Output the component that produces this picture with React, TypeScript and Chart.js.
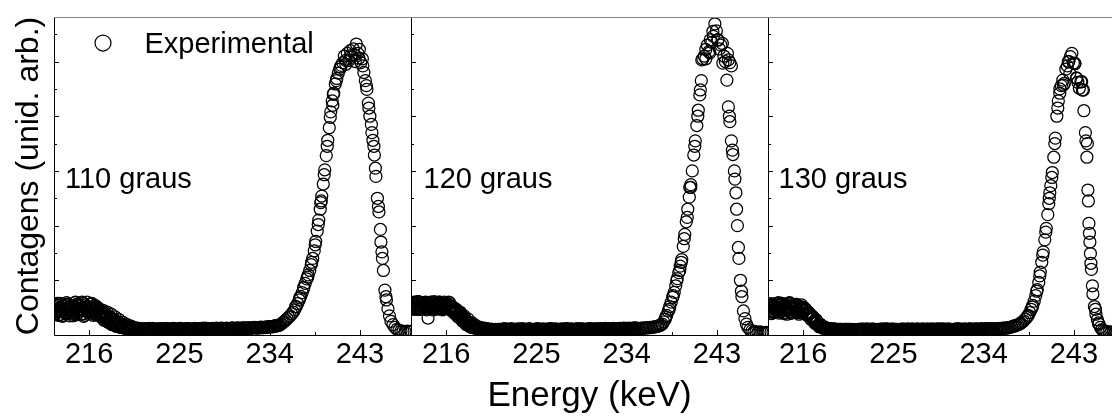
import { useEffect, useRef } from 'react';
import { Chart, registerables } from 'chart.js';

Chart.register(...registerables);

// Channel energies (keV), shared by the three spectra
const energyKeV = [
  212.4, 212.6, 212.8, 213.0, 213.2, 213.4, 213.6, 213.8, 214.0, 214.2, 214.4, 214.6, 214.8, 215.0, 215.2,
  215.4, 215.6, 215.8, 216.0, 216.2, 216.4, 216.6, 216.8, 217.0, 217.2, 217.4, 217.6, 217.8, 218.0, 218.2,
  218.4, 218.6, 218.8, 219.0, 219.2, 219.4, 219.6, 219.8, 220.0, 220.2, 220.4, 220.6, 220.8, 221.0,
  221.4, 221.8, 222.2, 222.6, 223.0, 223.4, 223.8, 224.2, 224.6, 225.0, 225.4, 225.8, 226.2, 226.6, 227.0,
  227.4, 227.8, 228.2, 228.6, 229.0, 229.4, 229.8, 230.2, 230.6, 231.0, 231.4, 231.8, 232.2, 232.6, 233.0,
  233.4, 233.8, 234.2, 234.6,
  235.0, 235.15, 235.3, 235.45, 235.6, 235.75, 235.9, 236.05, 236.2, 236.35,
  236.5, 236.65, 236.8, 236.95, 237.1, 237.25, 237.4, 237.55, 237.7, 237.85,
  238.0, 238.15, 238.3, 238.45, 238.6, 238.75, 238.9, 239.05, 239.2, 239.35,
  239.5, 239.65, 239.8, 239.95, 240.1, 240.25, 240.4, 240.55, 240.7, 240.85,
  241.0, 241.15, 241.3, 241.45, 241.6, 241.75, 241.9, 242.05, 242.2, 242.35,
  242.5, 242.65, 242.8, 242.95, 243.1, 243.25, 243.4, 243.55, 243.7, 243.85,
  244.0, 244.15, 244.3, 244.45, 244.6, 244.75, 244.9, 245.05, 245.2, 245.35,
  245.5, 245.65, 245.8, 245.95,
  246.1, 246.3, 246.5, 246.7, 246.9, 247.1, 247.3, 247.5, 247.7, 247.9, 248.1,
];

// Counts at 110 degrees
const counts110 = [
  470, 380, 540, 420, 500, 360, 560, 450, 400, 520, 350, 590, 430, 480, 380,
  510, 440, 600, 400, 490, 360, 540, 420, 470, 330, 450, 300, 420, 260, 380,
  220, 330, 180, 280, 160, 230, 140, 190, 125, 160, 115, 135, 110, 120,
  105, 115, 100, 110, 95, 105, 115, 100, 110, 100, 95, 110, 105, 115, 100,
  110, 120, 105, 110, 120, 105, 115, 125, 110, 120, 130, 115, 125, 135, 130,
  140, 150, 155, 170,
  180, 200, 225, 245, 270, 300, 325, 350, 385, 420,
  460, 515, 575, 640, 705, 775, 860, 945, 1025, 1100,
  1180, 1285, 1400, 1540, 1710, 1900, 2100, 2300, 2540, 2760,
  3020, 3280, 3560, 3790, 4080, 4280, 4420, 4590, 4690, 4790,
  4860, 4930, 4980, 5100, 4950, 5150, 5020, 5200, 5080, 5230,
  5120, 5320, 5150, 5220, 4980, 5050, 4800, 4650, 4490, 4240,
  4000, 3850, 3560, 3290, 2900, 2500, 2250, 1930, 1520, 1180,
  820, 640, 480, 350,
  250, 190, 140, 105, 85, 75, 65, 60, 70, 60, 65,
];

// Counts at 120 degrees
const counts120 = [
  540, 480, 600, 500, 560, 470, 590, 520, 530, 310, 560, 490, 610, 510, 570,
  480, 540, 600, 500, 560, 460, 520, 400, 470, 330, 420, 260, 350, 190, 290,
  150, 220, 130, 170, 115, 140, 110, 125, 105, 110, 100, 105, 95, 100,
  100, 110, 95, 105, 100, 110, 95, 105, 100, 110, 105, 95, 110, 100, 105,
  95, 110, 100, 105, 110, 100, 105, 110, 100, 110, 105, 115, 105, 110, 115,
  110, 120, 115, 120,
  115, 120, 110, 125, 120, 130, 125, 135, 130, 140,
  135, 145, 150, 155, 160, 170, 180, 200, 240, 290,
  360, 440, 520, 600, 690, 780, 900, 1030, 1140, 1260,
  1380, 1620, 1840, 2070, 2300, 2520, 2750, 3000, 3290, 3550,
  3830, 4110, 4390, 4650, 5050, 5100, 5220, 5300, 5180, 5400,
  5350, 5460, 5690, 5560, 5400, 5230, 5300, 5330, 5100, 5000,
  4660, 4170, 3900, 3550, 3300, 3000, 2600, 2000, 1400, 1000,
  700, 440, 300, 200,
  140, 95, 75, 60, 55, 50, 55, 50, 45, 50, 45,
];

// Counts at 130 degrees
const counts130 = [
  480, 560, 420, 530, 460, 580, 400, 510, 450, 560, 380, 520, 470, 550, 430,
  500, 380, 520, 440, 470, 360, 400, 280, 320, 210, 240, 150, 180, 120, 130,
  105, 115, 100, 110, 100, 105, 95, 105, 100, 95, 105, 100, 95, 100,
  100, 95, 105, 100, 95, 105, 100, 110, 95, 100, 105, 100, 95, 105, 100,
  110, 100, 95, 105, 100, 110, 100, 105, 95, 105, 110, 100, 105, 110, 105,
  100, 110, 105, 110,
  110, 105, 115, 110, 120, 115, 125, 120, 130, 125,
  135, 140, 150, 160, 165, 175, 185, 200, 215, 235,
  260, 290, 320, 360, 410, 470, 540, 620, 720, 830,
  960, 1150, 1330, 1520, 1740, 1950, 2200, 2500, 2730, 2970,
  3250, 3600, 4000, 4280, 4420, 4560, 4660, 4600, 4860, 4920,
  5000, 5090, 5150, 4970, 4960, 4700, 4620, 4510, 4630, 4480,
  4100, 3700, 3250, 2450, 1700, 1200, 750, 520, 380, 280,
  200, 140, 100, 80,
  70, 60, 55, 50, 55, 50, 45, 50, 45, 50, 45,
];

// Intermediate channels of the low-energy shoulder and the flat background
const interleavedKeV = [
  212.5, 212.7, 212.9, 213.1, 213.3, 213.5, 213.7, 213.9, 214.1, 214.3,
  214.5, 214.7, 214.9, 215.1, 215.3, 215.5, 215.7, 215.9, 216.1, 216.3,
  216.5, 216.7, 216.9, 217.1, 217.3, 217.5, 217.7, 217.9, 218.1, 218.3,
  218.5, 218.7, 218.9, 219.1, 219.3, 219.5, 219.7, 219.9, 220.1, 220.3,
  220.5, 220.7, 220.9,
  221.2, 221.6, 222.0, 222.4, 222.8, 223.2, 223.6, 224.0, 224.4, 224.8,
  225.2, 225.6, 226.0, 226.4, 226.8, 227.2, 227.6, 228.0, 228.4, 228.8,
  229.2, 229.6, 230.0, 230.4, 230.8, 231.2, 231.6, 232.0, 232.4, 232.8,
  233.2, 233.6, 234.0, 234.4, 234.8,
];

const interleaved110 = [
  420, 520, 360, 580, 440, 490, 390, 550, 470, 410,
  530, 370, 560, 450, 600, 390, 500, 430, 560, 420,
  480, 380, 500, 380, 430, 270, 390, 230, 330, 200,
  290, 160, 240, 140, 200, 125, 170, 115, 145, 110,
  125, 105, 115,
  110, 100, 120, 105, 95, 115, 105, 100, 120, 110,
  100, 115, 105, 95, 110, 120, 100, 115, 110, 105,
  125, 115, 110, 120, 130, 110, 125, 120, 135, 125,
  140, 135, 150, 160, 175,
];

const interleaved120 = [
  560, 510, 580, 470, 600, 520, 560, 480, 590, 500,
  540, 460, 580, 530, 600, 470, 560, 510, 580, 490,
  500, 430, 480, 360, 400, 300, 330, 220, 250, 170,
  200, 140, 155, 120, 130, 110, 120, 100, 110, 95,
  105, 100, 105,
  105, 95, 110, 100, 105, 95, 110, 105, 100, 95,
  110, 100, 105, 110, 95, 105, 100, 110, 105, 95,
  110, 100, 105, 110, 100, 105, 115, 100, 110, 105,
  115, 110, 120, 115, 125,
];

const interleaved130 = [
  520, 440, 570, 410, 500, 540, 460, 580, 390, 500,
  450, 570, 420, 510, 560, 440, 470, 400, 500, 380,
  420, 330, 350, 250, 280, 180, 200, 140, 150, 110,
  120, 105, 100, 110, 95, 105, 100, 95, 105, 100,
  95, 105, 100,
  95, 105, 100, 110, 95, 100, 105, 95, 110, 100,
  105, 95, 100, 110, 105, 95, 100, 105, 110, 95,
  105, 100, 110, 105, 95, 105, 110, 100, 105, 100,
  110, 105, 100, 110, 105,
];

// Further channels between the ones above (shoulder and background)
const fillKeV = [
  212.45, 212.65, 212.85, 213.05, 213.25, 213.45, 213.65, 213.85, 214.05, 214.25,
  214.45, 214.65, 214.85, 215.05, 215.25, 215.45, 215.65, 215.85, 216.05, 216.25,
  216.45, 216.65, 216.85, 217.05, 217.25, 217.45, 217.65, 217.85, 218.05, 218.25,
  218.45, 218.65, 218.85, 219.05, 219.25, 219.45, 219.65, 219.85, 220.05, 220.25,
  220.45, 220.65, 220.85,
  221.3, 221.5, 221.7, 221.9, 222.1, 222.3, 222.5, 222.7, 222.9, 223.1,
  223.3, 223.5, 223.7, 223.9, 224.1, 224.3, 224.5, 224.7, 224.9, 225.1,
  225.3, 225.5, 225.7, 225.9, 226.1, 226.3, 226.5, 226.7, 226.9, 227.1,
  227.3, 227.5, 227.7, 227.9, 228.1, 228.3, 228.5, 228.7, 228.9, 229.1,
  229.3, 229.5, 229.7, 229.9, 230.1, 230.3, 230.5, 230.7, 230.9, 231.1,
  231.3, 231.5, 231.7, 231.9, 232.1, 232.3, 232.5, 232.7, 232.9, 233.1,
  233.3, 233.5, 233.7, 233.9, 234.1, 234.3, 234.5, 234.7, 234.9,
];

const fill110 = [
  500, 430, 580, 370, 460, 530, 410, 570, 350, 480,
  440, 600, 390, 520, 460, 340, 550, 470, 410, 580,
  450, 370, 490, 350, 410, 290, 360, 240, 310, 190,
  260, 170, 210, 150, 180, 130, 150, 120, 135, 115,
  120, 110, 105,
  100, 115, 105, 95, 110, 120, 100, 105, 115, 95,
  110, 100, 120, 105, 110, 95, 115, 105, 100, 120,
  110, 105, 95, 115, 110, 100, 120, 105, 115, 110,
  100, 125, 105, 115, 110, 120, 105, 125, 110, 115,
  120, 105, 125, 115, 110, 130, 115, 120, 125, 110,
  130, 120, 125, 135, 120, 130, 140, 125, 135, 145,
  130, 140, 150, 145, 155, 150, 160, 165, 175,
];

const fill120 = [
  520, 590, 470, 560, 610, 490, 540, 580, 460, 550,
  600, 480, 530, 570, 500, 590, 460, 550, 520, 600,
  480, 510, 420, 450, 350, 380, 280, 300, 210, 230,
  160, 175, 130, 140, 115, 120, 105, 110, 100, 105,
  95, 100, 100,
  105, 100, 110, 95, 105, 100, 115, 100, 95, 110,
  105, 100, 110, 95, 105, 115, 100, 105, 95, 110,
  100, 105, 110, 100, 95, 105, 115, 100, 110, 105,
  95, 110, 100, 105, 115, 100, 110, 95, 105, 110,
  100, 115, 105, 100, 110, 105, 115, 100, 110, 105,
  115, 105, 110, 120, 105, 115, 110, 120, 110, 115,
  120, 110, 125, 115, 120, 125, 115, 125, 130,
];

const fill130 = [
  450, 540, 390, 510, 570, 430, 490, 560, 410, 520,
  470, 590, 400, 500, 540, 420, 480, 550, 430, 470,
  370, 390, 300, 310, 220, 230, 160, 170, 125, 130,
  110, 115, 100, 105, 95, 100, 105, 95, 100, 105,
  95, 100, 105,
  100, 105, 95, 110, 100, 105, 95, 100, 110, 105,
  95, 100, 105, 110, 100, 95, 105, 100, 110, 95,
  105, 100, 95, 110, 105, 100, 105, 95, 110, 100,
  105, 95, 100, 110, 105, 100, 95, 105, 110, 100,
  105, 100, 110, 95, 105, 100, 110, 105, 95, 100,
  110, 105, 100, 105, 110, 100, 105, 110, 105, 100,
  110, 105, 110, 105, 115, 110, 105, 115, 110,
];

// One more pass over the low-energy shoulder
const shoulderKeV = [
  212.55, 212.75, 212.95, 213.15, 213.35, 213.55, 213.75, 213.95, 214.15, 214.35,
  214.55, 214.75, 214.95, 215.15, 215.35, 215.55, 215.75, 215.95, 216.15, 216.35,
  216.55, 216.75, 216.95, 217.15, 217.35, 217.55, 217.75, 217.95, 218.15, 218.35,
  218.55, 218.75, 218.95, 219.15, 219.35, 219.55, 219.75, 219.95, 220.15, 220.35,
  220.55, 220.75, 220.95,
];

const shoulder110 = [
  390, 560, 450, 510, 340, 470, 590, 420, 530, 380,
  490, 560, 410, 460, 580, 360, 520, 440, 570, 400,
  510, 430, 460, 390, 380, 320, 330, 260, 280, 210,
  230, 160, 190, 140, 160, 125, 140, 115, 125, 110,
  115, 105, 110,
];

const shoulder120 = [
  580, 500, 550, 610, 470, 570, 520, 600, 490, 560,
  510, 590, 470, 540, 600, 500, 570, 480, 550, 590,
  460, 490, 380, 430, 320, 350, 240, 270, 180, 200,
  140, 150, 120, 125, 110, 115, 100, 105, 100, 95,
  105, 100, 95,
];

const shoulder130 = [
  500, 570, 430, 540, 470, 590, 420, 510, 550, 450,
  580, 400, 520, 480, 560, 410, 500, 450, 480, 400,
  410, 340, 330, 260, 250, 190, 180, 140, 135, 115,
  110, 105, 100, 105, 95, 100, 105, 100, 95, 100,
  105, 100, 95,
];

// Repeated acquisitions that overlap the main spectra along the peaks
const repeatKeV110 = [
  239.1, 240.3, 241.6, 242.1, 242.55, 242.9, 243.3, 243.65, 244.4, 245.1,
  236.6, 237.0, 237.4, 237.8, 238.2, 238.55, 238.85, 239.15, 239.45, 239.75, 240.05, 240.35, 240.65, 241.05,
  243.9, 244.2, 244.55, 244.85, 245.25, 245.6,
];
const repeatCounts110 = [
  2420, 4200, 5020, 5110, 5000, 5060, 4920, 4560, 3450, 1700,
  520, 680, 870, 1060, 1330, 1650, 2020, 2450, 2930, 3450, 3980, 4400, 4650, 4900,
  4150, 3700, 3050, 2350, 1400, 700,
];

const repeatKeV120 = [
  239.3, 240.3, 241.5, 241.9, 242.3, 242.6, 243.1, 243.6, 244.05, 244.15, 244.3, 244.45, 244.97,
  237.9, 238.25, 238.65, 239.0, 239.45, 239.75, 240.05, 240.4, 240.8, 241.1, 241.35,
  244.25, 244.55, 244.8, 245.15, 245.45,
];
const repeatCounts120 = [
  1180, 2700, 5030, 5050, 5160, 5550, 5390, 4970, 5150, 5030, 4980, 4920, 2300,
  330, 470, 720, 990, 1330, 1760, 2150, 2700, 3450, 4000, 4480,
  4000, 3380, 2850, 1600, 800,
];

const repeatKeV130 = [
  240.6, 241.6, 241.95, 242.45, 242.6, 243.1, 243.3, 243.78, 243.95, 244.35, 244.4, 244.5, 244.55, 244.65, 244.7,
  238.4, 238.85, 239.3, 239.6, 239.9, 240.2, 240.5, 240.8, 241.1, 241.4,
  244.2, 244.85, 245.15, 245.45,
];
const repeatCounts130 = [
  2600, 4500, 4570, 4996, 4784, 4967, 4693, 4631, 4479, 3500, 2650, 2040, 1860, 1490, 1311,
  350, 510, 800, 1080, 1460, 1880, 2400, 2880, 3500, 4150,
  3550, 900, 470, 220,
];

const angleLabels = ['110 graus', '120 graus', '130 graus'];
const xMajorTicks = [216, 225, 234, 243];
const xMinorTicks = [220.5, 229.5, 238.5, 247.5];
const yMajorTicks = [1000, 2000, 3000, 4000, 5000];
const yMinorTicks = [500, 1500, 2500, 3500, 4500, 5500];

const ENERGY_MIN = 212.5;
const ENERGY_MAX = 248.1;
const COUNTS_MAX = 5814;

const FONT = "'Liberation Sans', Arial, Helvetica, sans-serif";
const PAGE_W = 1112;
const PAGE_H = 417;
const PANEL_W = 357;
const PLOT_TOP = 17;
const PLOT_BOTTOM = 335;
const Y_AXIS_W = 54;

type Panel = {
  label: string;
  counts: number[];
  interleaved: number[];
  fill: number[];
  shoulder: number[];
  repeatKeV: number[];
  repeatCounts: number[];
  left: number;
  labelOffset: number;
};

const panels: Panel[] = [
  { label: angleLabels[0], counts: counts110, interleaved: interleaved110, fill: fill110, shoulder: shoulder110, repeatKeV: repeatKeV110, repeatCounts: repeatCounts110, left: 54, labelOffset: 11 },
  { label: angleLabels[1], counts: counts120, interleaved: interleaved120, fill: fill120, shoulder: shoulder120, repeatKeV: repeatKeV120, repeatCounts: repeatCounts120, left: 411, labelOffset: 12.5 },
  { label: angleLabels[2], counts: counts130, interleaved: interleaved130, fill: fill130, shoulder: shoulder130, repeatKeV: repeatKeV130, repeatCounts: repeatCounts130, left: 768, labelOffset: 10.5 },
];

// Frame and inward-pointing tick marks of every panel
const panelFrame = {
  id: 'panelFrame',
  afterDatasetsDraw(chart: any) {
    const { ctx, chartArea: a } = chart;
    const xs = chart.scales.x;
    const ys = chart.scales.y;
    ctx.save();
    ctx.lineWidth = 1;
    ctx.strokeStyle = '#000';
    ctx.beginPath();
    const yTick = (v: number, len: number) => {
      const y = Math.round(ys.getPixelForValue(v)) + 0.5;
      ctx.moveTo(a.left, y);
      ctx.lineTo(a.left + len, y);
    };
    const xTick = (v: number, len: number) => {
      if (v < xs.min || v > xs.max) return;
      const x = Math.round(xs.getPixelForValue(v)) + 0.5;
      ctx.moveTo(x, a.bottom);
      ctx.lineTo(x, a.bottom - len);
    };
    yMajorTicks.forEach((v) => yTick(v, 5));
    yMinorTicks.forEach((v) => yTick(v, 3));
    xMajorTicks.forEach((v) => xTick(v, 5));
    xMinorTicks.forEach((v) => xTick(v, 3));
    ctx.stroke();

    ctx.beginPath();
    ctx.moveTo(a.left + 0.5, a.top);
    ctx.lineTo(a.left + 0.5, a.bottom + 0.5);
    ctx.lineTo(a.right + 0.5, a.bottom + 0.5);
    ctx.lineTo(a.right + 0.5, a.top);
    ctx.stroke();

    ctx.strokeStyle = '#858585';
    ctx.beginPath();
    ctx.moveTo(a.left, a.top + 0.5);
    ctx.lineTo(a.right + 1, a.top + 0.5);
    ctx.stroke();
    ctx.restore();
  },
};

// Angle label inside each panel and the series key in the first one
const panelNotes = {
  id: 'panelNotes',
  afterDraw(chart: any, _args: any, opts: any) {
    const { ctx, chartArea: a } = chart;
    ctx.save();
    ctx.fillStyle = '#000';
    ctx.textAlign = 'left';
    ctx.textBaseline = 'alphabetic';
    ctx.font = `29px ${FONT}`;
    ctx.fillText(opts.label, a.left + opts.labelOffset, 188);
    if (opts.showKey) {
      ctx.strokeStyle = '#000';
      ctx.lineWidth = 1.25;
      ctx.beginPath();
      ctx.arc(a.left + 49, 43, 8, 0, Math.PI * 2);
      ctx.stroke();
      ctx.fillText(chart.data.datasets[0].label, a.left + 90.5, 53);
    }
    ctx.restore();
  },
};

function SpectrumPanel({ panel, index }: { panel: Panel; index: number }) {
  const ref = useRef<HTMLCanvasElement | null>(null);
  const canvasW = panel.left + PANEL_W + 40;

  useEffect(() => {
    if (!ref.current) return;
    const points = energyKeV.map((e, i) => ({ x: e, y: panel.counts[i] }));
    interleavedKeV.forEach((e, i) => points.push({ x: e, y: panel.interleaved[i] }));
    fillKeV.forEach((e, i) => points.push({ x: e, y: panel.fill[i] }));
    shoulderKeV.forEach((e, i) => points.push({ x: e, y: panel.shoulder[i] }));
    panel.repeatKeV.forEach((e, i) => points.push({ x: e, y: panel.repeatCounts[i] }));

    const first = index === 0;
    const chart = new Chart(ref.current, {
      type: 'scatter',
      data: {
        datasets: [
          {
            label: 'Experimental',
            data: points,
            pointStyle: 'circle',
            pointRadius: 6,
            pointHoverRadius: 6,
            pointBorderWidth: 1.25,
            pointBorderColor: '#000',
            pointBackgroundColor: 'rgba(0,0,0,0)',
            borderColor: '#000',
            backgroundColor: 'rgba(0,0,0,0)',
            showLine: false,
            clip: 0,
          } as any,
        ],
      },
      options: {
        animation: false,
        responsive: false,
        devicePixelRatio: 1,
        events: [],
        layout: {
          padding: {
            left: first ? panel.left - Y_AXIS_W : panel.left,
            right: canvasW - panel.left - PANEL_W,
            top: PLOT_TOP,
            bottom: 0,
          },
        },
        plugins: {
          legend: { display: false },
          tooltip: { enabled: false },
          panelNotes: { label: panel.label, labelOffset: panel.labelOffset, showKey: first },
        } as any,
        scales: {
          x: {
            type: 'linear',
            min: ENERGY_MIN,
            max: ENERGY_MAX,
            grid: { display: false, drawTicks: false },
            border: { display: false },
            ticks: {
              autoSkip: false,
              maxRotation: 0,
              minRotation: 0,
              padding: 3,
              color: '#000',
              font: { family: FONT, size: 29 },
              callback: (v: any) => String(v),
            },
            afterBuildTicks: (s: any) => {
              s.ticks = xMajorTicks.map((value) => ({ value }));
            },
            afterFit: (s: any) => {
              s.height = PAGE_H - PLOT_BOTTOM;
            },
            title: {
              display: index === 1,
              text: 'Energy (keV)',
              color: '#000',
              font: { family: FONT, size: 35 },
              padding: { top: 0, bottom: 0 },
            },
          },
          y: {
            type: 'linear',
            min: 0,
            max: COUNTS_MAX,
            display: first,
            grid: { display: false, drawTicks: false },
            border: { display: false },
            ticks: { display: false },
            afterFit: (s: any) => {
              s.width = first ? Y_AXIS_W : 0;
            },
            title: {
              display: first,
              text: 'Contagens (unid. arb.)',
              color: '#000',
              font: { family: FONT, size: 32 },
              padding: { top: 10, bottom: 0 },
            },
          },
        },
      } as any,
      plugins: [panelFrame, panelNotes],
    });
    return () => chart.destroy();
  }, [panel, index]);

  return (
    <canvas
      ref={ref}
      width={canvasW}
      height={PAGE_H}
      style={{ position: 'absolute', left: 0, top: 0, width: canvasW, height: PAGE_H }}
    />
  );
}

export default function App() {
  return (
    <div
      style={{
        position: 'fixed',
        left: 0,
        top: 0,
        width: PAGE_W,
        height: PAGE_H,
        overflow: 'hidden',
        background: '#fff',
      }}
    >
      {panels.map((p, i) => (
        <SpectrumPanel key={p.label} panel={p} index={i} />
      ))}
    </div>
  );
}
